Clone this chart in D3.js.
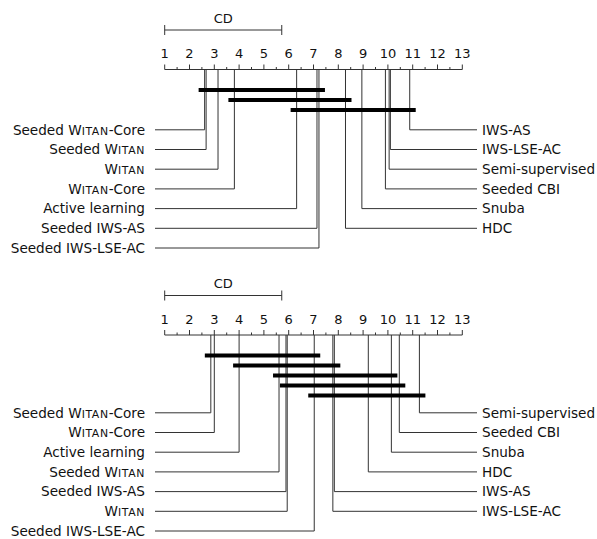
<!DOCTYPE html>
<html>
<head>
<meta charset="utf-8">
<script src="https://cdn.jsdelivr.net/npm/d3@7"></script>
<style>
  html, body { margin: 0; padding: 0; background: #fff; }
  svg { display: block; }
  text { font-family: "DejaVu Sans", sans-serif; fill: #111; }
</style>
</head>
<body>
<div id="chart"></div>
<script>
// ---- Data ----
const tickValues = [1,2,3,4,5,6,7,8,9,10,11,12,13];
const cdValue = 4.72;

// Top diagram
const topLeftNames  = ["Seeded Witan-Core","Seeded Witan","Witan","Witan-Core","Active learning","Seeded IWS-AS","Seeded IWS-LSE-AC"];
const topLeftRanks  = [2.61, 2.67, 3.15, 3.81, 6.32, 7.14, 7.22];
const topRightNames = ["IWS-AS","IWS-LSE-AC","Semi-supervised","Seeded CBI","Snuba","HDC"];
const topRightRanks = [10.88, 10.10, 10.05, 9.90, 8.95, 8.29];
const topCliques    = [[2.61, 7.22], [3.81, 8.29], [6.32, 10.88]];

// Bottom diagram
const botLeftNames  = ["Seeded Witan-Core","Witan-Core","Active learning","Seeded Witan","Seeded IWS-AS","Witan","Seeded IWS-LSE-AC"];
const botLeftRanks  = [2.86, 3.00, 4.00, 5.61, 5.89, 5.94, 7.03];
const botRightNames = ["Semi-supervised","Seeded CBI","Snuba","HDC","IWS-AS","IWS-LSE-AC"];
const botRightRanks = [11.27, 10.46, 10.14, 9.21, 7.84, 7.78];
const botCliques    = [[2.86, 7.03], [4.00, 7.84], [5.61, 10.14], [5.89, 10.46], [7.03, 11.27]];

// ---- Drawing ----
const W = 597, H = 539;
const svg = d3.select("#chart").append("svg").attr("width", W).attr("height", H);
const x = d3.scaleLinear().domain([1, 13]).range([164.7, 462.3]);
const lineCol = "#333";

function addLabel(sel, name) {
  const parts = name.split(/(Witan)/);
  parts.forEach(p => {
    if (!p) return;
    if (p === "Witan") {
      sel.append("tspan").text("W");
      sel.append("tspan").text("ITAN").style("font-size", "0.8em").style("letter-spacing", "0.6px");
    } else {
      sel.append("tspan").text(p);
    }
  });
}

function diagram(g, leftNames, leftRanks, rightNames, rightRanks, cliques, rowStart) {
  const axisY = 69.5;
  // CD bar
  const cdY = 30;
  g.append("line").attr("x1", x(1)).attr("x2", x(1 + cdValue)).attr("y1", cdY).attr("y2", cdY)
    .attr("stroke", lineCol).attr("stroke-width", 1);
  [1, 1 + cdValue].forEach(v => {
    g.append("line").attr("x1", x(v)).attr("x2", x(v)).attr("y1", cdY - 5).attr("y2", cdY + 5)
      .attr("stroke", lineCol).attr("stroke-width", 1);
  });
  g.append("text").attr("x", (x(1) + x(1 + cdValue)) / 2).attr("y", 22.5)
    .attr("text-anchor", "middle").style("font-size", "13px").text("CD");

  // Axis line
  g.append("line").attr("x1", x(1)).attr("x2", x(13)).attr("y1", axisY).attr("y2", axisY)
    .attr("stroke", lineCol).attr("stroke-width", 1);
  const halfTicks = d3.range(1, 13.01, 0.5);
  g.selectAll(".tk").data(halfTicks).join("line")
    .attr("x1", d => x(d)).attr("x2", d => x(d))
    .attr("y1", d => axisY - (Number.isInteger(d) ? 5 : 2.5)).attr("y2", axisY)
    .attr("stroke", lineCol).attr("stroke-width", 1);
  g.selectAll(".tl").data(tickValues).join("text")
    .attr("x", d => x(d)).attr("y", 58).attr("text-anchor", "middle")
    .style("font-size", "13px").text(d => d);

  const leftEnd = 155, rightEnd = 477;
  const step = 19.7;
  // Left methods
  leftRanks.forEach((r, i) => {
    const y = rowStart + i * step;
    g.append("path").attr("d", `M${x(r)},${axisY}V${y}H${leftEnd}`)
      .attr("fill", "none").attr("stroke", lineCol).attr("stroke-width", 1);
    const t = g.append("text").attr("x", leftEnd - 10).attr("y", y).attr("dy", "0.36em")
      .attr("text-anchor", "end").style("font-size", "13.6px");
    addLabel(t, leftNames[i]);
  });
  rightRanks.forEach((r, i) => {
    const y = rowStart + i * step;
    g.append("path").attr("d", `M${x(r)},${axisY}V${y}H${rightEnd}`)
      .attr("fill", "none").attr("stroke", lineCol).attr("stroke-width", 1);
    const t = g.append("text").attr("x", rightEnd + 5).attr("y", y).attr("dy", "0.36em")
      .attr("text-anchor", "start").style("font-size", "13.6px");
    addLabel(t, rightNames[i]);
  });
  // Cliques
  const side = 6;
  cliques.forEach((c, i) => {
    const y = 90 + i * 10;
    g.append("line").attr("x1", x(c[0]) - side).attr("x2", x(c[1]) + side)
      .attr("y1", y).attr("y2", y).attr("stroke", "#000").attr("stroke-width", 4);
  });
}

diagram(svg.append("g"), topLeftNames, topLeftRanks, topRightNames, topRightRanks, topCliques, 129.8);
diagram(svg.append("g").attr("transform", "translate(0,265.5)"), botLeftNames, botLeftRanks, botRightNames, botRightRanks, botCliques, 412.8 - 265.5);
</script>
</body>
</html>
